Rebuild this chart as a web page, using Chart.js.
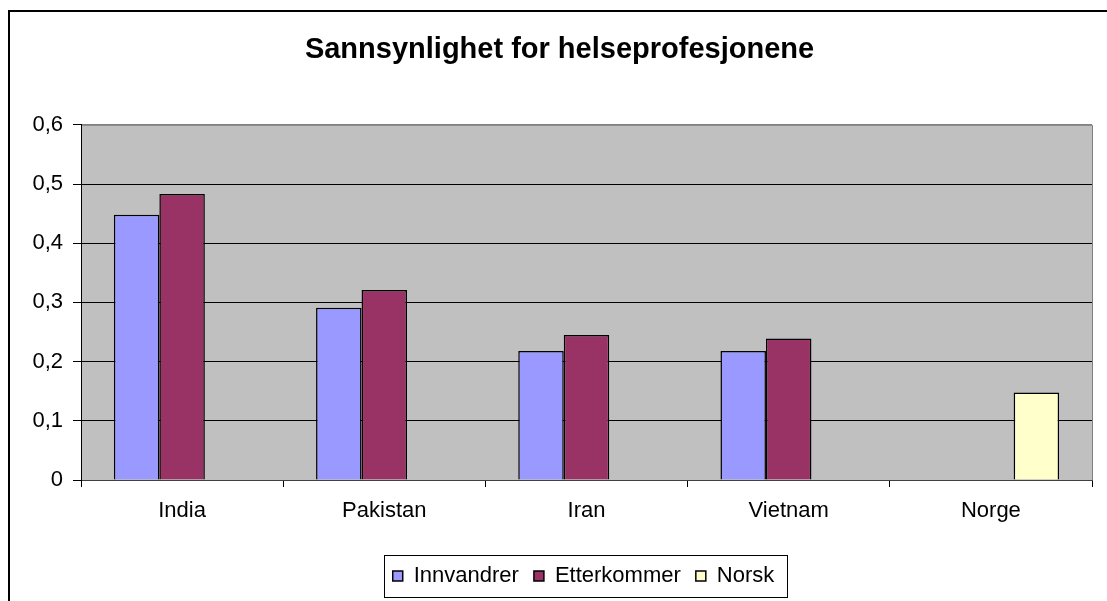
<!DOCTYPE html>
<html>
<head>
<meta charset="utf-8">
<script src="https://cdn.jsdelivr.net/npm/chart.js@4/dist/chart.umd.min.js"></script>
<style>
html,body{margin:0;padding:0;background:#fff;}
#wrap{position:relative;width:1107px;height:601px;}
</style>
</head>
<body>
<div id="wrap"><canvas id="c"></canvas></div>
<script>
const categories = ['India', 'Pakistan', 'Iran', 'Vietnam', 'Norge'];
const innvandrer = [0.448, 0.291, 0.218, 0.218, null];
const etterkommer = [0.483, 0.321, 0.245, 0.239, null];
const norsk = [null, null, null, null, 0.148];
const yTickLabels = ['0', '0,1', '0,2', '0,3', '0,4', '0,5', '0,6'];
const titleText = 'Sannsynlighet for helseprofesjonene';

const FONT = "'Liberation Sans', Arial, sans-serif";

const framePlugin = {
  id: 'frame',
  afterLayout(chart) {
    const a = chart.chartArea;
    const lg = chart.legend;
    if (lg) {
      const shift = (a.left + a.right) / 2 - 3 - (lg.left + lg.right) / 2;
      lg.left += shift; lg.right += shift;
    }
    const tb = chart.titleBlock;
    if (tb) {
      const shift = 559.5 - (tb.left + tb.right) / 2;
      tb.left += shift; tb.right += shift;
    }
  },
  beforeDraw(chart) {
    const {ctx, chartArea: a} = chart;
    ctx.save();
    ctx.fillStyle = '#C0C0C0';
    ctx.fillRect(a.left, a.top, a.right - a.left, a.bottom - a.top);
    ctx.strokeStyle = '#808080';
    ctx.lineWidth = 1;
    ctx.beginPath();
    ctx.moveTo(a.left, a.top + 0.5);
    ctx.lineTo(a.right + 0.5, a.top + 0.5);
    ctx.lineTo(a.right + 0.5, a.bottom);
    ctx.stroke();
    // outer chart border
    ctx.strokeStyle = '#000';
    ctx.lineWidth = 2;
    ctx.beginPath();
    ctx.moveTo(9, 620);
    ctx.lineTo(9, 11);
    ctx.lineTo(1120, 11);
    ctx.stroke();
    ctx.restore();
  },
  afterDraw(chart) {
    const lg = chart.legend;
    if (!lg || !lg.legendHitBoxes || !lg.legendHitBoxes.length) return;
    const hb = lg.legendHitBoxes;
    let minX = Infinity, maxX = -Infinity, cy = 0;
    hb.forEach(b => { minX = Math.min(minX, b.left); maxX = Math.max(maxX, b.left + b.width); cy += b.top + b.height / 2; });
    cy /= hb.length;
    const ctx = chart.ctx;
    ctx.save();
    ctx.strokeStyle = '#000';
    ctx.lineWidth = 1;
    ctx.strokeRect(Math.round(minX - 9) + 0.5, Math.round(cy - 21) + 0.5, Math.round(maxX - minX + 21), 42);
    ctx.restore();
  }
};

new Chart(document.getElementById('c'), {
  type: 'bar',
  data: {
    labels: categories,
    datasets: [
      { label: 'Innvandrer', data: innvandrer, backgroundColor: '#9999FF', borderColor: '#000', borderWidth: 1.5 },
      { label: 'Etterkommer', data: etterkommer, backgroundColor: '#993366', borderColor: '#000', borderWidth: 1.5 },
      { label: 'Norsk', data: norsk, backgroundColor: '#FFFFCC', borderColor: '#000', borderWidth: 1.5 }
    ]
  },
  options: {
    responsive: true,
    maintainAspectRatio: false,
    devicePixelRatio: 1,
    animation: false,
    layout: { padding: { left: 0, right: 15, top: 0, bottom: 4 } },
    datasets: { bar: { categoryPercentage: 0.675, barPercentage: 1.0, skipNull: false } },
    plugins: {
      title: {
        display: true,
        text: titleText,
        color: '#000',
        font: { family: FONT, size: 29, weight: 'bold' },
        padding: { top: 33, bottom: 57 }
      },
      legend: {
        position: 'bottom',
        labels: {
          color: '#000',
          font: { family: FONT, size: 22 },
          boxWidth: 10,
          boxHeight: 10,
          padding: 15
        }
      },
      tooltip: { enabled: false }
    },
    scales: {
      x: {
        afterFit(scale) {
          const lh = scale.chart.legend ? scale.chart.legend.height : 0;
          scale.height = 601 - 4 - lh - 480;
        },
        grid: { drawOnChartArea: false, drawTicks: true, tickLength: 7, color: '#000', offset: true },
        border: { color: '#404040', width: 1 },
        ticks: { color: '#000', font: { family: FONT, size: 22 }, padding: 11 }
      },
      y: {
        min: 0,
        max: 0.6,
        afterFit(scale) { scale.width = 81; },
        ticks: {
          stepSize: 0.1,
          color: '#000',
          font: { family: FONT, size: 22 },
          padding: 10,
          callback: (v, i) => yTickLabels[i]
        },
        grid: {
          color: (c) => (c.tick && Math.abs(c.tick.value - 0.6) < 1e-9) ? '#808080' : '#000',
          tickColor: '#000',
          tickLength: 8,
          lineWidth: 1
        },
        border: { color: '#000', width: 1 }
      }
    }
  },
  plugins: [framePlugin]
});
</script>
</body>
</html>
